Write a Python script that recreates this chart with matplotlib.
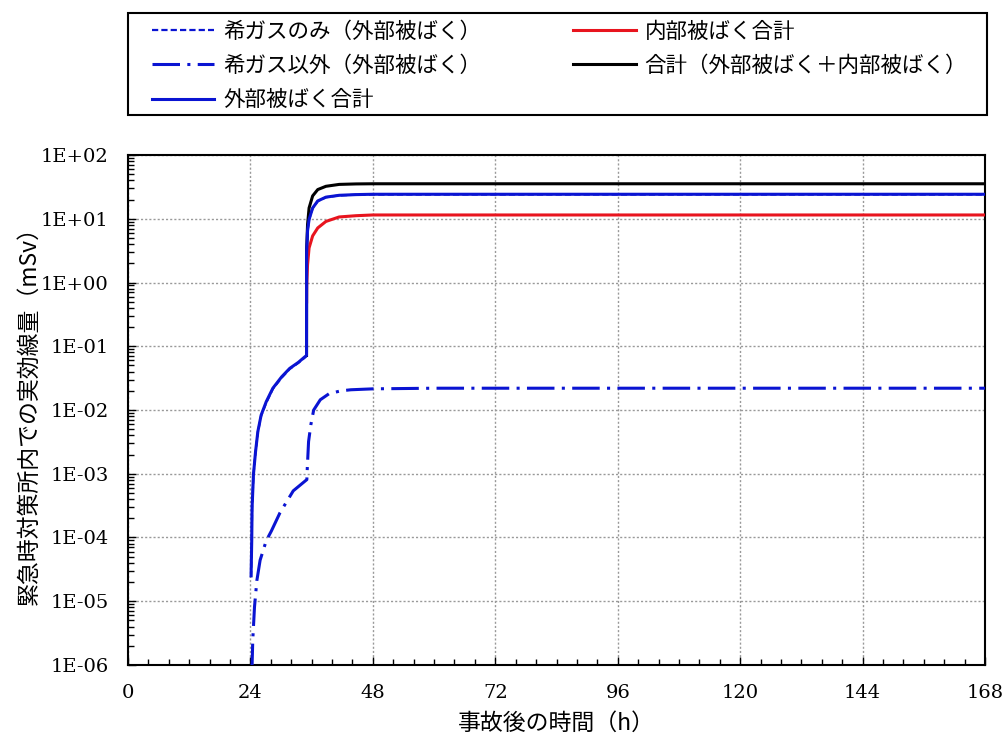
import matplotlib
matplotlib.use("Agg")
import matplotlib.pyplot as plt
from matplotlib.ticker import MultipleLocator, FixedLocator, LogLocator, NullFormatter
from matplotlib.patches import Rectangle

plt.rcParams['font.family'] = ['Noto Sans CJK JP', 'DejaVu Sans']

# ---- data ----
# 希ガスのみ(外部被ばく) - lies beneath 外部被ばく合計
t_noble = [24.13, 24.26, 24.33, 24.6, 25.0, 25.46, 26.1, 27.1, 28.4, 30.1, 31.7, 33.4, 35.0,
           35.02, 35.2, 35.5, 36.2, 37.2, 38.8, 41.4, 44.7, 48, 168]
v_noble = [2.4e-5, 8.7e-5, 2.9e-4, 9.6e-4, 2.15e-3, 4.5e-3, 8.1e-3, 0.013, 0.0215, 0.032, 0.044, 0.055, 0.070,
           2.9, 6.4, 9.7, 14.7, 19.0, 21.8, 23.3, 23.9, 24.1, 24.1]

# 希ガス以外(外部被ばく)
t_other = [24.3, 24.46, 24.8, 25.26, 25.9, 27.1, 28.1, 29.8, 32.4, 35.06, 35.15, 35.4, 35.85,
           36.4, 37.7, 39.4, 41.7, 43.7, 48, 60, 168]
v_other = [8e-7, 2.45e-6, 8.1e-6, 2.1e-5, 4.4e-5, 8.9e-5, 1.26e-4, 2.45e-4, 5.4e-4, 8.1e-4, 1.23e-3, 3.2e-3, 5.9e-3,
           0.010, 0.0145, 0.018, 0.020, 0.0208, 0.0215, 0.022, 0.022]

# 外部被ばく合計
t_ext = [24.13, 24.26, 24.33, 24.6, 25.0, 25.46, 26.1, 27.1, 28.4, 30.1, 31.7, 33.4, 35.0,
         35.02, 35.2, 35.5, 36.2, 37.2, 38.8, 41.4, 44.7, 48, 168]
v_ext = [2.5e-5, 8.9e-5, 2.95e-4, 9.8e-4, 2.2e-3, 4.6e-3, 8.3e-3, 0.0135, 0.022, 0.033, 0.045, 0.056, 0.072,
         3.0, 6.5, 9.8, 14.8, 19.1, 21.9, 23.4, 24.0, 24.3, 24.3]

# 内部被ばく合計
t_int = [35.012, 35.03, 35.2, 35.5, 36.2, 37.2, 38.8, 41.4, 44.7, 48, 168]
v_int = [0.5, 0.93, 1.9, 3.5, 5.4, 7.2, 9.1, 10.7, 11.2, 11.5, 11.5]

# 合計(外部被ばく+内部被ばく)
t_tot = [35.0, 35.02, 35.2, 35.5, 36.2, 37.2, 38.8, 41.4, 44.7, 48, 168]
v_tot = [0.072, 3.2, 8.1, 14.8, 22.9, 28.8, 32.4, 34.7, 35.3, 35.5, 35.5]

labels = ['希ガスのみ（外部被ばく）', '希ガス以外（外部被ばく）', '外部被ばく合計',
          '内部被ばく合計', '合計（外部被ばく＋内部被ばく）']
xticks = [0, 24, 48, 72, 96, 120, 144, 168]
yticks = [1e-6, 1e-5, 1e-4, 1e-3, 1e-2, 1e-1, 1e0, 1e1, 1e2]
ytick_labels = ['1E-06', '1E-05', '1E-04', '1E-03', '1E-02', '1E-01', '1E+00', '1E+01', '1E+02']

blue = '#0a14d2'
red = '#e8141e'

fig = plt.figure(figsize=(10.06, 7.40), dpi=100)
ax = fig.add_axes([0.1272, 0.1014, 0.852, 0.689])

l1, = ax.plot(t_noble, v_noble, color=blue, lw=1.6, ls=(0, (2.8, 1.4)), zorder=2)
l2, = ax.plot(t_other, v_other, color=blue, lw=2.2, ls=(0, (9, 2.4, 1, 2.4)), zorder=3)
l5, = ax.plot(t_tot, v_tot, color='black', lw=2.2, zorder=3)
l4, = ax.plot(t_int, v_int, color=red, lw=2.2, zorder=3.5)
l3, = ax.plot(t_ext, v_ext, color=blue, lw=2.2, zorder=4)

ax.set_yscale('log')
ax.set_xlim(0, 168)
ax.set_ylim(1e-6, 1e2)
ax.xaxis.set_major_locator(FixedLocator(xticks))
ax.xaxis.set_minor_locator(MultipleLocator(4))
ax.yaxis.set_major_locator(FixedLocator(yticks))
ax.yaxis.set_minor_locator(LogLocator(base=10, subs=range(2, 10), numticks=20))
ax.yaxis.set_minor_formatter(NullFormatter())
ax.set_xticklabels([str(x) for x in xticks], family='DejaVu Serif', fontsize=14)
ax.set_yticklabels(ytick_labels, family='DejaVu Serif', fontsize=14)
ax.tick_params(which='both', direction='in', top=False, right=False)
ax.tick_params(which='major', length=6, width=1, pad=14)
ax.tick_params(which='minor', length=4, width=1)
ax.grid(True, which='major', color='#999999', ls=(0, (1.5, 1.5)), lw=1)
for s in ax.spines.values():
    s.set_linewidth(1.5)

ax.set_xlabel('事故後の時間（h）', fontsize=16.5, labelpad=7)
ax.set_ylabel('緊急時対策所内での実効線量（mSv）', fontsize=16.5, labelpad=0)

# legend frame drawn as a figure rectangle
fig.patches.append(Rectangle((128 / 1006, 1 - 115 / 740), 859 / 1006, 102 / 740,
                             transform=fig.transFigure, fill=False, lw=1.5,
                             ec='black', zorder=5))
handles = [l1, l2, l3, l4, l5]
leg = fig.legend(handles, labels, loc='center left', ncol=2, mode='expand',
                 bbox_to_anchor=(152 / 1006, 1 - 66 / 740, 815 / 1006, 0), frameon=False,
                 fontsize=15.5, handlelength=2.9, labelspacing=0.56, borderpad=0,
                 borderaxespad=0, handletextpad=0.4)

fig.savefig('out.png', dpi=100)
